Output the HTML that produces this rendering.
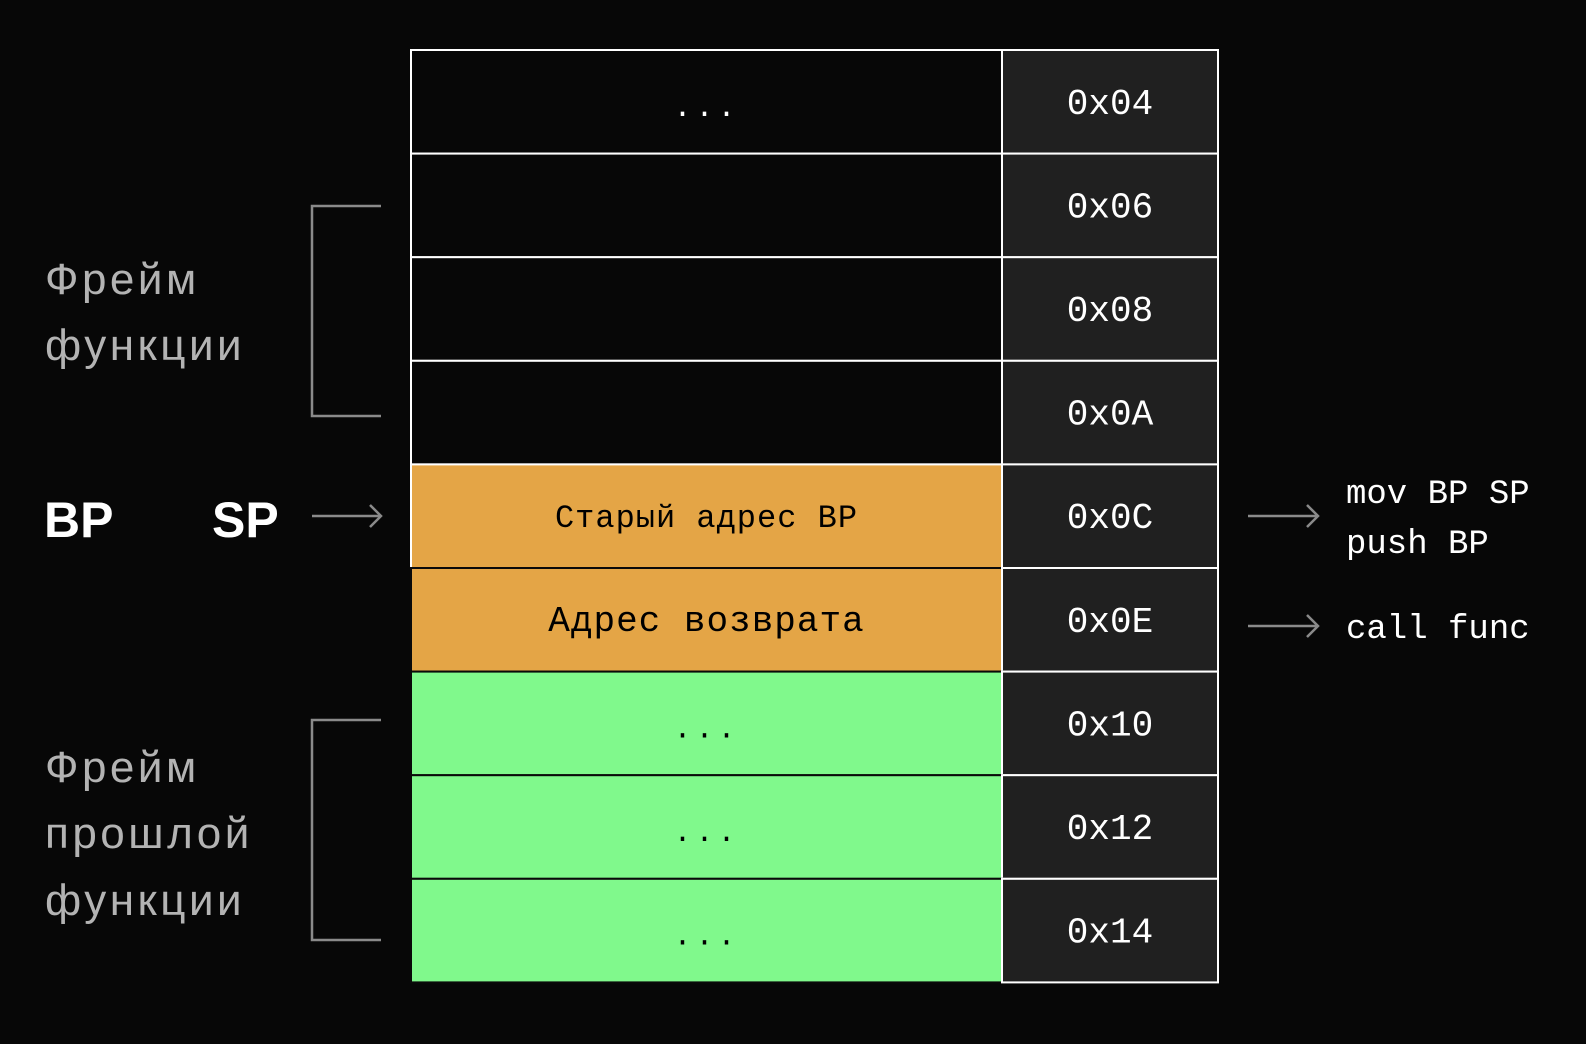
<!DOCTYPE html>
<html><head><meta charset="utf-8"><style>
html,body{margin:0;padding:0;background:#070707;}
svg{display:block}
.mono{font-family:"Liberation Mono","DejaVu Sans Mono",monospace;}
.sans{font-family:"Liberation Sans","DejaVu Sans",sans-serif;}
</style></head><body>
<svg id="chart" width="1586" height="1044" viewBox="0 0 1586 1044" xmlns="http://www.w3.org/2000/svg">
<rect x="0" y="0" width="1586" height="1044" fill="#070707"/>
<g id="rows"></g>
<g stroke="#8a8a8a" stroke-width="2.5" fill="none">
<polyline points="381,206 312,206 312,416 381,416"/>
</g>
<g stroke="#8a8a8a" stroke-width="2.5" fill="none">
<polyline points="381,720 312,720 312,940 381,940"/>
</g>
<text class="sans" x="45" y="294" font-size="44" fill="#b3b3b3" letter-spacing="3.5">Фрейм</text>
<text class="sans" x="45" y="360" font-size="44" fill="#b3b3b3" letter-spacing="3.5">функции</text>
<text class="sans" x="45" y="782" font-size="44" fill="#b3b3b3" letter-spacing="3.5">Фрейм</text>
<text class="sans" x="45" y="848" font-size="44" fill="#b3b3b3" letter-spacing="3.5">прошлой</text>
<text class="sans" x="45" y="915" font-size="44" fill="#b3b3b3" letter-spacing="3.5">функции</text>
<text class="sans" x="44" y="537" font-size="50" font-weight="bold" fill="#ffffff">BP</text>
<text class="sans" x="212" y="537" font-size="50" font-weight="bold" fill="#ffffff">SP</text>
<g stroke="#8a8a8a" stroke-width="2.5" fill="none">
<g><line x1="312" y1="516" x2="381" y2="516"/><polyline points="370,505 381,516 370,527"/></g>
<g><line x1="1248" y1="516" x2="1318" y2="516"/><polyline points="1307,505 1318,516 1307,527"/></g>
<g><line x1="1248" y1="626" x2="1318" y2="626"/><polyline points="1307,615 1318,626 1307,637"/></g>
</g>
<text class="mono" x="1346" y="503" font-size="34" fill="#ffffff">mov BP SP</text>
<text class="mono" x="1346" y="553" font-size="34" fill="#ffffff">push BP</text>
<text class="mono" x="1346" y="638" font-size="34" fill="#ffffff">call func</text>
</svg>
<script>
const addresses = ["0x04","0x06","0x08","0x0A","0x0C","0x0E","0x10","0x12","0x14"];
const contents = ["...","","","","Старый адрес BP","Адрес возврата","...","...","..."];
const kinds = ["dark","dark","dark","dark","orange","orange","green","green","green"];
const NS = "http://www.w3.org/2000/svg";
const g = document.getElementById('rows');
const top0 = 50, rowH = 103.6, x0 = 411, x1 = 1002, x2 = 1218;
const fills = {dark:"#070707", orange:"#E4A546", green:"#80F98C"};
function mk(tag, attrs){const e=document.createElementNS(NS,tag);for(const k in attrs)e.setAttribute(k,attrs[k]);return e;}
addresses.forEach((a,i)=>{
  const y = top0 + i*rowH;
  const k = kinds[i];
  const cell = mk('rect',{x:x0,y:y,width:x1-x0,height:rowH,fill:fills[k],stroke:k==="dark"?"#ffffff":(k==="orange"&&i===4?"#ffffff":"#0a0a0a"),'stroke-width':2});
  
  
  g.appendChild(cell);
  const ac = mk('rect',{x:x1,y:y,width:x2-x1,height:rowH,fill:"#202020",stroke:"#ffffff",'stroke-width':2});
  
  
  g.appendChild(ac);
  const at = mk('text',{x:(x1+x2)/2,y:y+rowH/2+12,'text-anchor':'middle','font-size':36,fill:'#ffffff','class':'mono'});
  at.textContent = a;
  
  
  g.appendChild(at);
  if (contents[i]) {
    const fs = contents[i]==="Адрес возврата"?36:(contents[i]==="..."?30:32);
    const ct = mk('text',{x:(x0+x1)/2,y:y+rowH/2+(contents[i]==="..."?14:11),'text-anchor':'middle','font-size':fs,fill:k==="dark"?'#ffffff':'#000000','class':'mono','letter-spacing':contents[i]==="..."?4:1});
    ct.textContent = contents[i];
    
    
    g.appendChild(ct);
  }
});
</script>
</body></html>
